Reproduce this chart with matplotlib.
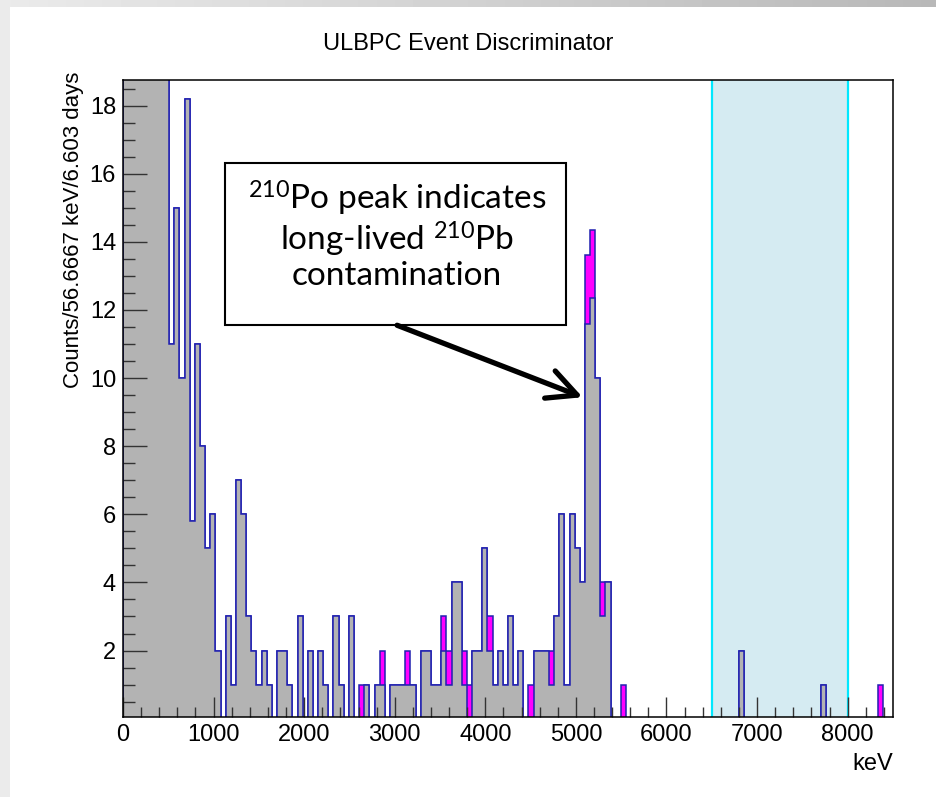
import matplotlib.pyplot as plt
from matplotlib.patches import Rectangle
from matplotlib.ticker import MultipleLocator
import numpy as np

# ROOT style look: Helvetica-like labels, box text in a humanist sans
plt.rcParams['font.family'] = ['Liberation Sans', 'DejaVu Sans']
plt.rcParams['mathtext.fontset'] = 'custom'
plt.rcParams['mathtext.rm'] = 'Lato'

# histogram definition: 150 bins of 56.6667 keV from 0 to 8500 keV
n_bins = 150
e_min, e_max = 0, 8500

# counts per bin, grey component (first bins are off scale)
gray_counts = [
    60, 75, 68, 52, 44, 37, 31, 27, 23, 11,
    15, 10, 18.2, 5.8, 11, 8, 5, 6, 2, 0,
    3, 1, 7, 6, 3, 2, 1, 2, 1, 0,
    2, 2, 1, 0, 3, 0, 2, 0, 2, 1,
    0, 3, 1, 0, 3, 0, 0, 1, 0, 1,
    1, 0, 1, 1, 1, 1, 1, 0, 2, 2,
    1, 1, 2, 1, 4, 4, 1, 0, 2, 2,
    5, 2, 1, 2, 1, 3, 1, 2, 0, 0,
    2, 2, 2, 1, 3, 6, 1, 6, 5, 4,
    11.6, 12.35, 10, 3, 4, 0, 0, 0, 0, 0,
    0, 0, 0, 0, 0, 0, 0, 0, 0, 0,
    0, 0, 0, 0, 0, 0, 0, 0, 0, 0,
    2, 0, 0, 0, 0, 0, 0, 0, 0, 0,
    0, 0, 0, 0, 0, 0, 1, 0, 0, 0,
    0, 0, 0, 0, 0, 0, 0, 0, 0, 0,
]

# magenta component stacked on top (bin index, counts)
pink_bins = [46, 50, 55, 62, 63, 66, 67, 71, 79, 83, 90, 91, 93, 97, 147]
pink_counts = [1, 1, 1, 1, 1, 1, 1, 1, 1, 1, 2, 2, 1, 1, 1]

# signal region
roi_low, roi_high = 6500, 8000

title = 'ULBPC Event Discriminator'
y_title = 'Counts/56.6667 keV/6.603 days'
x_title = 'keV'
note = ('$\\mathregular{^{210}}$Po peak indicates\n'
        'long-lived $\\mathregular{^{210}}$Pb\n'
        'contamination')

edges = np.linspace(e_min, e_max, n_bins + 1)
gray = np.array(gray_counts, dtype=float)
pink = np.zeros(n_bins)
pink[pink_bins] = pink_counts
total = gray + pink

line_blue = '#2020b0'

fig = plt.figure(figsize=(9.36, 7.97), dpi=100)

# slide background: grey gradient strip on top / left, white page
bg = fig.add_axes([0, 0, 1, 1], zorder=-10)
grad = np.linspace(0.92, 0.72, 256).reshape(1, -1)
bg.imshow(grad, cmap='gray', vmin=0, vmax=1, aspect='auto', extent=[0, 1, 0, 1])
bg.add_patch(Rectangle((10 / 936, 0), 1, 1 - 7 / 797, color='white', lw=0))
bg.set_xlim(0, 1)
bg.set_ylim(0, 1)
bg.set_axis_off()

ax = fig.add_axes([0.1314, 0.1004, 0.8226, 0.7992])
ax.set_facecolor('white')
ax.set_axisbelow(False)  # ticks drawn over the histogram, like ROOT

ax.axvspan(roi_low, roi_high, color='#d5ebf2', lw=0, zorder=0.5)
for e in (roi_low, roi_high):
    ax.axvline(e, color='#00e8ff', lw=1.6, zorder=0.6)

# stacked: draw the sum first, then the grey part over it
ax.stairs(total, edges, fill=True, facecolor='#ff00ff', edgecolor=line_blue,
          linewidth=1.1, zorder=2)
ax.stairs(gray, edges, fill=True, facecolor='#b3b3b3', edgecolor=line_blue,
          linewidth=1.1, zorder=2.1)

ax.set_xlim(e_min, e_max)
ax.set_ylim(0.05, 18.75)

ax.xaxis.set_major_locator(MultipleLocator(1000))
ax.xaxis.set_minor_locator(MultipleLocator(200))
ax.yaxis.set_major_locator(MultipleLocator(2))
ax.yaxis.set_minor_locator(MultipleLocator(0.5))
ax.tick_params(which='both', direction='in', top=False, right=False,
               color='#333333', width=1.0, labelsize=17)
ax.tick_params(axis='x', which='major', length=14.5, pad=5)
ax.tick_params(axis='x', which='minor', length=7)
ax.tick_params(axis='y', which='major', length=17.5, pad=5)
ax.tick_params(axis='y', which='minor', length=8.5)
for s in ax.spines.values():
    s.set_linewidth(1.1)
    s.set_zorder(5)

fig.text(468 / 936, 1 - 44 / 797, title, ha='center', va='center', fontsize=17)
fig.text(74 / 936, 1 - 72 / 797, y_title, rotation=90, ha='center', va='top',
         fontsize=16)
fig.text(893 / 936, 1 - 764 / 797, x_title, ha='right', va='center', fontsize=17)

# annotation box with arrow pointing at the 210Po peak
ax.add_patch(Rectangle((0.1325, 0.615), 0.4425, 0.255, transform=ax.transAxes,
                       facecolor='white', edgecolor='black', lw=1.5, zorder=6))
ax.text(0.356, 0.757, note, transform=ax.transAxes, ha='center', va='center',
        multialignment='center', family='Lato', fontsize=24, linespacing=1.08,
        zorder=7)
ax.annotate('', xy=(0.597, 0.502), xytext=(0.356, 0.615),
            xycoords='axes fraction', textcoords='axes fraction',
            arrowprops=dict(arrowstyle='->, head_length=0.7, head_width=0.35',
                            lw=3.8, color='black', mutation_scale=30,
                            shrinkA=0, shrinkB=0),
            zorder=7)

fig.savefig('out.png', dpi=100)
